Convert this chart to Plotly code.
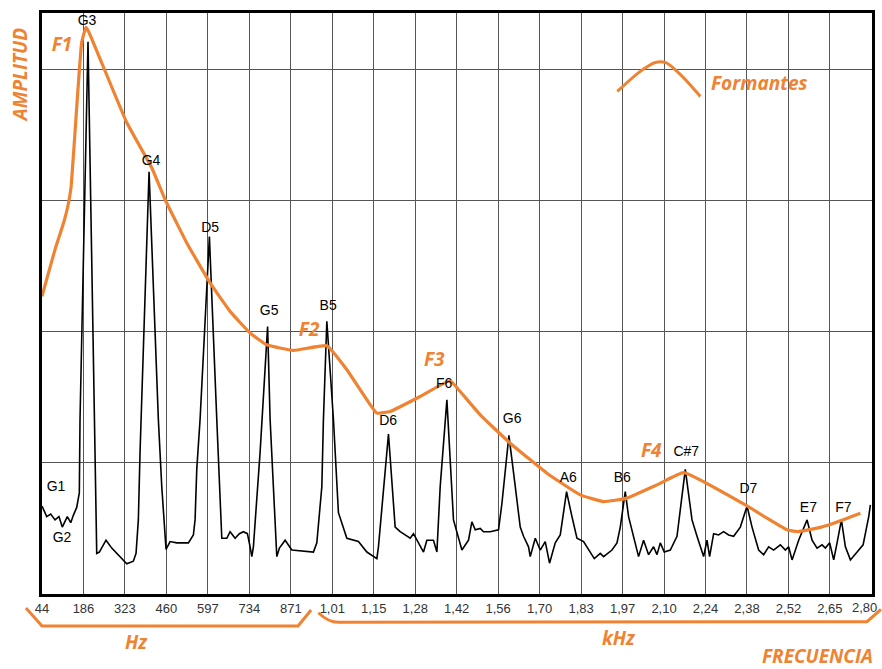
import plotly.graph_objects as go

# ---------------- data ----------------
# spectrum (frequency in Hz, amplitude in grid units)
freq_hz = [49, 64.5, 77.8, 92, 105, 116, 132.6, 144, 152.5, 163.7, 172.3, 174.6, 201,
           229.8, 238.4, 260.5, 279.4, 301.2, 329, 350.8, 359.7, 367.3, 372.9, 402.7,
           433.4, 444.6, 458.8, 472.1, 494.2, 532.6, 549.1, 554.7, 560.3, 571.2, 602,
           626.4, 643, 659.5, 670.4, 686.9, 701.1, 714.3, 727.6, 736.5, 742.1, 747.4, 769.5, 794.3,
           802.6, 824.7, 833.3, 852.2, 874.3, 945.7, 956.9, 973.5, 978.7, 990,
           1011.8, 1028.3, 1056.1, 1094.4, 1122.2, 1155.2, 1160.5, 1193.6,
           1215.7, 1232.3, 1265.3, 1276.3, 1287.5, 1309.3, 1320.5, 1342.3, 1353.6, 1364.5, 1386.6,
           1408.4, 1436.2, 1458, 1469.2, 1480.2, 1496.7, 1507.6, 1529.7, 1557.1, 1568.4, 1591.5,
           1612.4, 1628.9, 1639.8, 1656.3, 1661.9, 1678.5, 1695, 1711.5, 1725.7, 1744.6, 1761.1, 1781.9,
           1799.8, 1816.3, 1838.1, 1854.6, 1873.5, 1893.3, 1904.2, 1932, 1948.5, 1959.4, 1975.9,
           1986.8, 2003.3, 2019.8, 2036.4, 2052.9, 2069.4, 2080.7, 2091.6, 2104.8, 2124.7, 2146.8, 2174.2,
           2196.4, 2212.9, 2234.7, 2245.9, 2254.5, 2267.8, 2284.3, 2300.8, 2317.3, 2333.9, 2356, 2378.2,
           2394.7, 2416.5, 2433, 2449.6, 2466.1, 2488.2, 2504.8, 2515.6, 2526.9, 2548.7, 2576.5,
           2593, 2609.5, 2626, 2637, 2651.2, 2664.4, 2675.6, 2689.9,
           2703.1, 2719.7, 2741.8, 2761.6, 2780.2, 2785.7]
amplitude = [0.67, 0.59, 0.61, 0.565, 0.59, 0.51, 0.59, 0.544, 0.60, 0.66, 0.77, 1.33, 4.21,
             0.31, 0.32, 0.41, 0.35, 0.30, 0.23, 0.25, 0.31, 0.565, 1.08, 3.22,
             1.33, 0.82, 0.34, 0.40, 0.39, 0.39, 0.45, 0.565, 0.95, 1.33, 2.725,
             1.33, 0.425, 0.425, 0.475, 0.425, 0.46, 0.475, 0.46, 0.36, 0.285, 0.36, 1.08, 2.04,
             1.33, 0.285, 0.35, 0.41, 0.335, 0.32, 0.39, 0.82, 1.33, 2.08,
             1.33, 0.62, 0.425, 0.40, 0.32, 0.27, 0.36, 1.22,
             0.51, 0.475, 0.425, 0.46, 0.41, 0.32, 0.41, 0.41, 0.32, 0.82, 1.48,
             0.565, 0.335, 0.41, 0.55, 0.49, 0.50, 0.475, 0.475, 0.49, 0.69, 1.21,
             0.82, 0.51, 0.44, 0.36, 0.285, 0.425, 0.335, 0.40, 0.235, 0.39, 0.45, 0.78,
             0.59, 0.425, 0.40, 0.335, 0.27, 0.31, 0.285, 0.335, 0.39, 0.51, 0.78,
             0.59, 0.44, 0.285, 0.41, 0.30, 0.36, 0.30, 0.39, 0.32, 0.335, 0.44, 0.95,
             0.565, 0.44, 0.285, 0.41, 0.285, 0.46, 0.45, 0.475, 0.45, 0.44, 0.51, 0.67,
             0.51, 0.335, 0.30, 0.36, 0.335, 0.375, 0.335, 0.36, 0.26, 0.41, 0.565,
             0.41, 0.35, 0.375, 0.35, 0.39, 0.26, 0.39, 0.565,
             0.36, 0.26, 0.32, 0.375, 0.59, 0.68]

# formant envelope
envelope_hz = [49, 68.8, 92, 121.7, 134.9, 144.9, 154.8, 180.2, 194.4, 204.3, 328.9, 411.6, 455.5, 527.3,
               604.3, 670.4, 736.5, 791.7, 879.6, 990, 1056.1, 1122.2, 1155.2, 1199.2, 1298.4,
               1397.5, 1430.5, 1496.7, 1595.8, 1717.1, 1827.2, 1904.2, 1981.6, 2080.7, 2168.6,
               2378.2, 2444.3, 2510.4, 2543.4, 2609.5, 2664.4, 2752.6]
envelope_amp = [2.27, 2.435, 2.626, 2.84, 2.962, 3.099, 3.412, 4.206, 4.321, 4.282, 3.595, 3.25, 3.008, 2.677,
                2.372, 2.155, 1.99, 1.90, 1.857, 1.893, 1.71, 1.481, 1.379, 1.392, 1.506,
                1.626, 1.544, 1.366, 1.15, 0.921, 0.756, 0.705, 0.731, 0.832, 0.926,
                0.672, 0.578, 0.489, 0.476, 0.502, 0.54, 0.616]

# note labels
note_names = ["G1", "G2", "G3", "G4", "D5", "G5", "B5", "D6", "F6", "G6", "A6", "B6", "C#7", "D7", "E7", "F7"]
note_hz = [95.3, 115.1, 197.7, 409.3, 604.3, 799.3, 994.3, 1192.6, 1377.7, 1602.4, 1787.5, 1966,
           2177.5, 2382.5, 2580.8, 2696.5]
note_amp = [0.809, 0.42, 4.366, 3.298, 2.786, 2.153, 2.191, 1.313, 1.595, 1.328, 0.878, 0.878,
            1.076, 0.794, 0.649, 0.649]

# formant labels
formant_names = ["F1", "F2", "F3", "F4"]
formant_hz = [115.1, 931.5, 1344.6, 2061.9]
formant_amp = [4.176, 2.0, 1.771, 1.084]

# legend sample arc
legend_hz = [1949.5, 2025.5, 2075.1, 2108.1, 2157.7, 2223.8]
legend_amp = [3.832, 3.985, 4.053, 4.053, 3.962, 3.794]

tick_hz = [49, 186, 323, 460, 597, 734, 871, 1008, 1145, 1282, 1419, 1556, 1693, 1830,
           1967, 2104, 2241, 2378, 2515, 2652, 2789]
tick_labels = ["44", "186", "323", "460", "597", "734", "871", "1,01", "1,15", "1,28", "1,42",
               "1,56", "1,70", "1,83", "1,97", "2,10", "2,24", "2,38", "2,52", "2,65", "2,80"]

ORANGE = "#EF8332"
OFONT = dict(family="Open Sans, Lato, sans-serif", color=ORANGE, size=19, weight="bold", style="italic")
TICKFONT = dict(family="Liberation Sans, Arial, sans-serif", size=13, color="#333333")

fig = go.Figure()

fig.add_trace(go.Scatter(x=freq_hz, y=amplitude, mode="lines",
                         line=dict(color="black", width=1.6), hoverinfo="skip"))
fig.add_trace(go.Scatter(x=envelope_hz, y=envelope_amp, mode="lines",
                         line=dict(color=ORANGE, width=3.2, shape="spline", smoothing=0.35),
                         hoverinfo="skip"))
fig.add_trace(go.Scatter(x=legend_hz, y=legend_amp, mode="lines",
                         line=dict(color=ORANGE, width=3, shape="spline", smoothing=0.8),
                         hoverinfo="skip"))
fig.add_trace(go.Scatter(x=note_hz, y=note_amp, mode="text", text=note_names,
                         textposition="middle center",
                         textfont=dict(family="Liberation Sans, Arial, sans-serif", size=14, color="black"),
                         hoverinfo="skip"))
fig.add_trace(go.Scatter(x=formant_hz, y=formant_amp, mode="text", text=formant_names,
                         textposition="middle center", textfont=OFONT, hoverinfo="skip"))

fig.add_annotation(x=2418.8, y=3.9, xref="x", yref="y", text="Formantes", showarrow=False,
                   font=OFONT, xanchor="center", yanchor="middle")

# last tick label placed just inside the page edge (as in the original)
fig.add_annotation(x=tick_hz[-1], y=-0.024, xref="x", yref="paper", text=tick_labels[-1],
                   showarrow=False, font=TICKFONT, xanchor="right", yanchor="middle", xshift=8)

# outer labels
fig.add_annotation(x=-0.0265, y=0.893, xref="paper", yref="paper", text="AMPLITUD", textangle=-90,
                   showarrow=False, font=OFONT, xanchor="center", yanchor="middle")
fig.add_annotation(x=0.1133, y=-0.0826, xref="paper", yref="paper", text="Hz",
                   showarrow=False, font=OFONT, xanchor="center", yanchor="middle")
fig.add_annotation(x=0.6942, y=-0.0757, xref="paper", yref="paper", text="kHz",
                   showarrow=False, font=OFONT, xanchor="center", yanchor="middle")
fig.add_annotation(x=0.934, y=-0.106, xref="paper", yref="paper", text="FRECUENCIA",
                   showarrow=False, font=OFONT, xanchor="center", yanchor="middle")

# braces
fig.add_shape(type="path", xref="paper", yref="paper",
              path="M -0.0193 -0.0241 L 0 -0.055 L 0.3085 -0.055 L 0.3242 -0.0275",
              line=dict(color=ORANGE, width=3))
fig.add_shape(type="path", xref="paper", yref="paper",
              path="M 0.333 -0.0322 Q 0.345 -0.0487 0.3571 -0.0487 L 0.994 -0.0477 L 1.0108 -0.0263",
              line=dict(color=ORANGE, width=3))

fig.update_xaxes(range=[49, 2791], tickvals=tick_hz, ticktext=tick_labels[:-1] + [""],
                 showgrid=True, gridcolor="#555555", gridwidth=1,
                 showline=True, linecolor="black", linewidth=3, mirror=True,
                 ticks="", zeroline=False, automargin=False,
                 tickfont=TICKFONT)
fig.update_yaxes(range=[0, 4.43], tickvals=[1, 2, 3, 4], showticklabels=False,
                 showgrid=True, gridcolor="#555555", gridwidth=1,
                 showline=True, linecolor="black", linewidth=3, mirror=True,
                 ticks="", zeroline=False, automargin=False)

fig.update_layout(width=882, height=669, margin=dict(l=42, r=10, t=13, b=75, autoexpand=False),
                  paper_bgcolor="white", plot_bgcolor="white", showlegend=False)

fig.write_html("out.html")
